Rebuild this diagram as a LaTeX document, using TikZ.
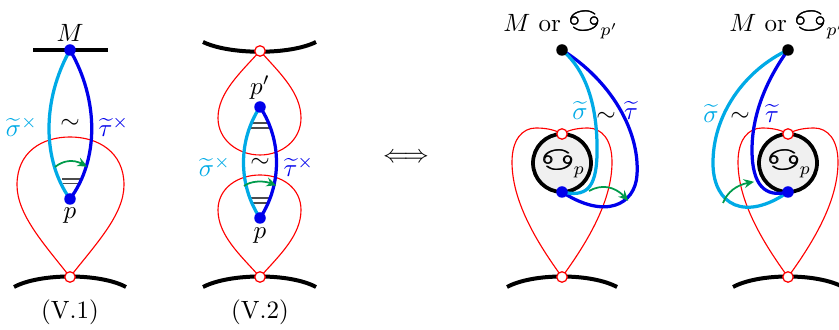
\documentclass[tikz,border=0pt]{standalone}
\usepackage{wasysym}
\usetikzlibrary{arrows.meta, bending}
\definecolor{sigcol}{RGB}{0,170,230}
\definecolor{taucol}{RGB}{0,0,235}
\definecolor{turncol}{RGB}{0,155,75}
% thickened crab sign
\newcommand{\crab}{\mbox{\scalebox{1.2}{\rlap{\cancer}\kern0.2pt\cancer}}}

\begin{document}
\begin{tikzpicture}[
  x=0.4pt, y=-0.4pt,
  bar/.style={line width=1.6pt, black},
  petal/.style={draw=red, line width=0.45pt},
  sig/.style={sigcol, line width=1.3pt},
  tau/.style={taucol, line width=1.3pt},
  turn/.style={turncol, line width=0.7pt, -{Stealth[length=4pt, width=3.6pt, bend]}},
  rung/.style={black!70, line width=0.5pt},
  hollow/.style={circle, draw=red, fill=white, line width=0.5pt, inner sep=0pt, minimum size=4.2pt},
  bdot/.style={circle, fill=taucol, inner sep=0pt, minimum size=4.6pt},
  kdot/.style={circle, fill=black, inner sep=0pt, minimum size=4.6pt},
  hole/.style={circle, draw=black, fill=black!6, line width=1.5pt, minimum size=23.2pt, inner sep=0pt}
]
\useasboundingbox (0,0) rectangle (839,330);

% ---- (V.1) ----
\coordinate (m1) at (70,50);
\coordinate (p1) at (70,199);
\coordinate (e1) at (70,277);
\draw[petal] (e1) .. controls (45,245) and (17,215) .. (17,185)
  .. controls (17,152) and (42,137) .. (70,137)
  .. controls (98,137) and (124,152) .. (124,185)
  .. controls (124,215) and (95,245) .. (e1);
\draw[bar] (33,50) -- (108,50);
\draw[bar] (14,287) .. controls (40,273) and (100,273) .. (126,287);
\draw[rung] (62,179) -- (80,179);
\draw[rung] (63,183.5) -- (79,183.5);
\draw[sig] (m1) .. controls (42,100) and (42,160) .. (p1);
\draw[tau] (m1) .. controls (99,100) and (99,160) .. (p1);
\draw[turn] (55,167) .. controls (65,159) and (77,159) .. (87,167);
\node[bdot] (M1) at (m1) {};
\node[bdot] (P1) at (p1) {};
\node[hollow] (E1) at (e1) {};
\node (labM1) at (70,33) {$M$};
\node (labp1) at (70,216) {$p$};
\node[text=sigcol] (labs1) at (22,127) {$\widetilde{\sigma}^{\times}$};
\node (labr1) at (70,124) {$\sim$};
\node[text=taucol] (labt1) at (114,127) {$\widetilde{\tau}^{\times}$};
\node (cap1) at (70,312) {(V.1)};

% ---- (V.2) ----
\coordinate (q2) at (260,107);
\coordinate (p2) at (260,218);
\coordinate (u2) at (260,51);
\coordinate (e2) at (260,277);
\draw[petal] (u2) .. controls (240,73) and (218,93) .. (218,118)
  .. controls (218,140) and (238,155) .. (260,155)
  .. controls (282,155) and (301,140) .. (301,118)
  .. controls (301,93) and (280,73) .. (u2);
\draw[petal] (e2) .. controls (240,255) and (218,235) .. (218,210)
  .. controls (218,188) and (238,175) .. (260,175)
  .. controls (282,175) and (301,188) .. (301,210)
  .. controls (301,235) and (280,255) .. (e2);
\draw[bar] (203,42) .. controls (230,55) and (290,55) .. (316,42);
\draw[bar] (203,287) .. controls (230,273) and (290,273) .. (316,287);
\draw[rung] (252,123) -- (268,123);
\draw[rung] (251,128) -- (269,128);
\draw[rung] (251,198) -- (269,198);
\draw[rung] (252,203) -- (268,203);
\draw[sig] (q2) .. controls (238,140) and (238,185) .. (p2);
\draw[tau] (q2) .. controls (282,140) and (282,185) .. (p2);
\draw[turn] (244,186) .. controls (252,180) and (268,180) .. (276,186);
\node[bdot] (Q2) at (q2) {};
\node[bdot] (P2) at (p2) {};
\node[hollow] (U2) at (u2) {};
\node[hollow] (E2) at (e2) {};
\node (labq2) at (260,88) {$p'$};
\node (labp2) at (260,236) {$p$};
\node[text=sigcol] (labs2) at (215,167) {$\widetilde{\sigma}^{\times}$};
\node (labr2) at (260,163) {$\sim$};
\node[text=taucol] (labt2) at (299,167) {$\widetilde{\tau}^{\times}$};
\node (cap2) at (260,312) {(V.2)};

% ---- equivalence ----
\node (iff) at (406,158) {$\Longleftrightarrow$};

% ---- right panel A ----
\coordinate (m3) at (562,50);
\coordinate (p3) at (562,192);
\coordinate (u3) at (562,134);
\coordinate (e3) at (562,277);
\draw[petal] (e3) .. controls (535,240) and (512,200) .. (512,162)
  .. controls (512,140) and (522,128) .. (536,128)
  .. controls (549,128) and (557,131) .. (u3)
  .. controls (567,131) and (575,128) .. (588,128)
  .. controls (602,128) and (612,140) .. (612,162)
  .. controls (612,200) and (589,240) .. (e3);
\draw[bar] (507,287) .. controls (533,273) and (591,273) .. (617,287);
\node[hole] (S3) at (562,163) {};
\node (labS3) at (564,164) {$\crab_p$};
\draw[tau] (m3) .. controls (610,80) and (640,130) .. (637,175)
  .. controls (635,205) and (605,220) .. (p3);
\draw[sig] (m3) .. controls (588,72) and (598,110) .. (597,155)
  .. controls (596,190) and (585,197) .. (p3);
\draw[turn] (589,191) .. controls (603,183) and (618,187) .. (628,201);
\node[kdot] (M3) at (m3) {};
\node[bdot] (P3) at (p3) {};
\node[hollow] (U3) at (u3) {};
\node[hollow] (E3) at (e3) {};
\node (labM3) at (561,25) {$M$ or $\crab_{p'}$};
\node[text=sigcol] (labs3) at (580,110) {$\widetilde{\sigma}$};
\node (labr3) at (606,117) {$\sim$};
\node[text=taucol] (labt3) at (631,110) {$\widetilde{\tau}$};

% ---- right panel B ----
\coordinate (m4) at (788,50);
\coordinate (p4) at (788,192);
\coordinate (u4) at (788,134);
\coordinate (e4) at (788,277);
\draw[petal] (e4) .. controls (761,240) and (738,200) .. (738,162)
  .. controls (738,140) and (748,128) .. (762,128)
  .. controls (775,128) and (783,131) .. (u4)
  .. controls (793,131) and (801,128) .. (814,128)
  .. controls (828,128) and (838,140) .. (838,162)
  .. controls (838,200) and (815,240) .. (e4);
\draw[bar] (733,287) .. controls (759,273) and (817,273) .. (843,287);
\node[hole] (S4) at (788,163) {};
\node (labS4) at (790,164) {$\crab_p$};
\draw[sig] (m4) .. controls (745,70) and (712,115) .. (713,165)
  .. controls (714,205) and (745,222) .. (p4);
\draw[tau] (m4) .. controls (770,75) and (752,110) .. (752,150)
  .. controls (752,185) and (765,198) .. (p4);
\draw[turn] (723,203) .. controls (728,190) and (740,183) .. (754,182);
\node[kdot] (M4) at (m4) {};
\node[bdot] (P4) at (p4) {};
\node[hollow] (U4) at (u4) {};
\node[hollow] (E4) at (e4) {};
\node (labM4) at (787,25) {$M$ or $\crab_{p'}$};
\node[text=sigcol] (labs4) at (711,113) {$\widetilde{\sigma}$};
\node (labr4) at (740,117) {$\sim$};
\node[text=taucol] (labt4) at (772,113) {$\widetilde{\tau}$};
\end{tikzpicture}
\end{document}
